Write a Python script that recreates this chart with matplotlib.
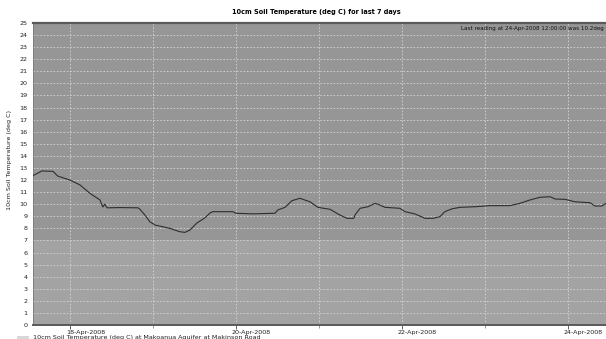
import numpy as np
import matplotlib
matplotlib.use("Agg")
import matplotlib.pyplot as plt
import matplotlib.dates as mdates
from matplotlib.transforms import ScaledTranslation
from datetime import datetime, timedelta

plt.rcParams["font.family"] = ["Liberation Sans Narrow", "DejaVu Sans"]

# hours since 17-Apr-2008 12:00 and soil temperature (deg C)
hours = [1.3, 3.9, 7.1, 8.5, 12.0, 14.9, 17.8, 20.7, 21.5, 22.1, 22.7, 26.5,
         31.7, 32.2, 33.7, 35.1, 36.6, 40.9, 43.8, 45.3, 46.7, 48.7, 51.0,
         52.5, 53.3, 59.1, 60.0, 64.9, 71.3, 72.1, 74.2, 76.2, 78.5, 79.9,
         81.4, 83.7, 87.2, 90.1, 92.1, 94.1, 94.4, 95.9, 98.2, 100.2, 101.1,
         103.1, 107.4, 108.9, 111.8, 114.7, 117.0, 119.0, 120.4, 122.5, 124.8,
         129.1, 133.4, 139.2, 142.1, 145.0, 147.9, 150.8, 152.3, 155.2, 158.0,
         162.4, 163.8, 165.8, 167.0, 168.0]
temps = [12.36, 12.75, 12.72, 12.33, 12.0, 11.6, 10.9, 10.35, 9.77, 10.0, 9.7,
         9.72, 9.7, 9.6, 9.1, 8.55, 8.28, 8.0, 7.72, 7.67, 7.86, 8.44, 8.86,
         9.27, 9.38, 9.38, 9.25, 9.2, 9.25, 9.52, 9.74, 10.29, 10.49, 10.35,
         10.2, 9.74, 9.58, 9.1, 8.83, 8.83, 9.1, 9.66, 9.79, 10.07, 10.0,
         9.74, 9.66, 9.38, 9.19, 8.83, 8.83, 8.97, 9.38, 9.62, 9.74, 9.79,
         9.88, 9.88, 10.07, 10.35, 10.57, 10.62, 10.43, 10.4, 10.2, 10.12,
         9.85, 9.85, 10.07, 10.2]
last_reading = ("24-Apr-2008 12:00:00", 10.2)

t0 = datetime(2008, 4, 17, 12, 0)
times = [t0 + timedelta(hours=h) for h in hours]

W, H = 606, 339
fs = 4.6
fig = plt.figure(figsize=(W / 100, H / 100), dpi=100)
fig.patch.set_facecolor("white")
ax = fig.add_axes([33 / W, 1 - 325 / H, 1 - 33 / W, (325 - 23) / H])

# two shaded bands behind the series
ax.set_facecolor("#969696")
ax.axhspan(0, 7, color="#a3a3a3", zorder=0, lw=0)

ax.plot(times, temps, color="#2e2e2e", lw=0.8, zorder=3)

ax.set_xlim(datetime(2008, 4, 17, 13, 20), datetime(2008, 4, 24, 11, 0))
ax.set_ylim(0, 25)
ax.set_yticks(range(0, 26))
ax.xaxis.set_major_locator(mdates.DayLocator(bymonthday=[18, 20, 22, 24]))
ax.xaxis.set_minor_locator(mdates.DayLocator())
ax.xaxis.set_major_formatter(mdates.DateFormatter("%d-%b-%Y"))

ax.grid(True, which="both", axis="x", color="#d4d4d4", ls=(0, (2, 2)), lw=0.6)
ax.grid(True, which="major", axis="y", color="#d4d4d4", ls=(0, (2, 2)), lw=0.6)
ax.set_axisbelow(True)

ax.tick_params(axis="y", length=0, labelsize=fs, pad=4, colors="#222222")
ax.tick_params(axis="x", which="major", length=3, width=0.6, labelsize=fs,
               pad=0.3, color="#444444", labelcolor="#222222")
ax.tick_params(axis="x", which="minor", length=2, width=0.6, color="#888888")
shift = ScaledTranslation(-4 / 100, 0, fig.dpi_scale_trans)
for lbl in ax.get_xticklabels():
    lbl.set_horizontalalignment("left")
    lbl.set_transform(lbl.get_transform() + shift)

ax.spines["right"].set_visible(False)
ax.spines["top"].set_color("#5a5a5a")
ax.spines["top"].set_linewidth(1.6)
ax.spines["bottom"].set_color("#5a5a5a")
ax.spines["bottom"].set_linewidth(1.4)
ax.spines["left"].set_color("#7a7a7a")
ax.spines["left"].set_linewidth(0.6)

ax.set_ylabel("10cm Soil Temperature (deg C)", fontsize=fs, color="#222222")
ax.yaxis.set_label_coords(-21 / 573, (325 - 160) / 302)

fig.text(316 / W, 1 - 12 / H, "10cm Soil Temperature (deg C) for last 7 days",
         ha="center", va="center", fontsize=fs + 0.1, fontweight="bold")
ax.text(1.006, 0.99,
        f"Last reading at {last_reading[0]} was {last_reading[1]}deg C",
        transform=ax.transAxes, ha="right", va="top", fontsize=fs - 0.5,
        color="#111111")

# series key, partly clipped by the bottom edge
fig.patches.append(plt.Rectangle((17 / W, 1 - 339 / H), 12 / W, 3 / H,
                                 transform=fig.transFigure,
                                 facecolor="#d8d8d8", edgecolor="none"))
fig.text(33 / W, 1 - 335.5 / H,
         "10cm Soil Temperature (deg C) at Makoanua Aquifer at Makinson Road",
         ha="left", va="top", fontsize=fs, color="#222222")

fig.savefig("out.png", dpi=100)
